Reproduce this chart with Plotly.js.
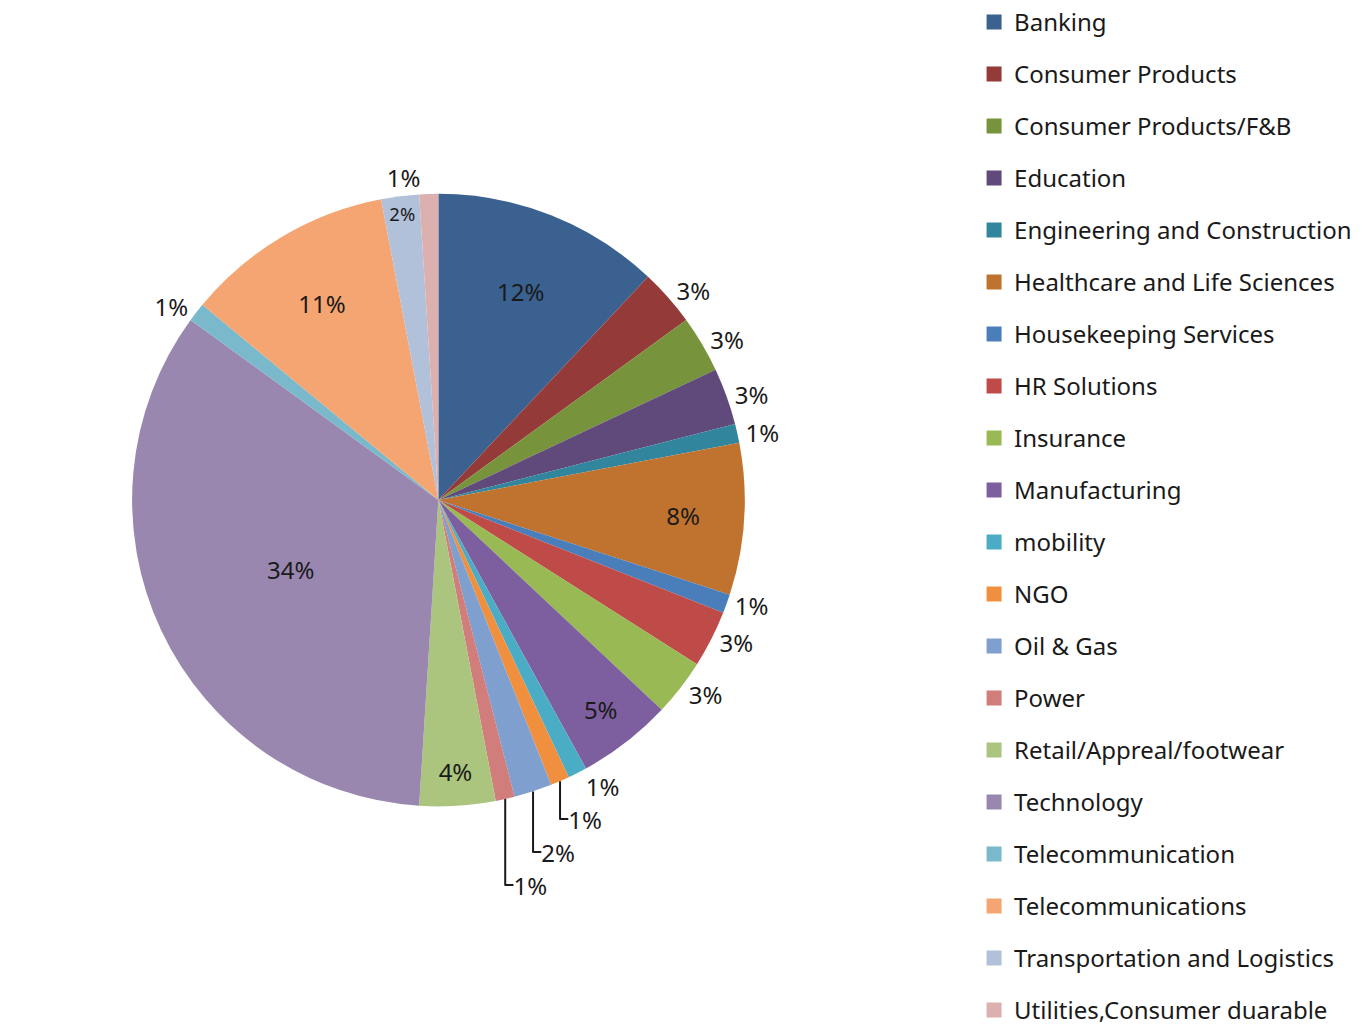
<!DOCTYPE html>
<html>
<head>
<meta charset="utf-8">
<script src="https://cdn.plot.ly/plotly-3.0.1.min.js"></script>
<style>
  html, body { margin: 0; padding: 0; background: #ffffff; }
  #chart { width: 1370px; height: 1031px; }
</style>
</head>
<body>
<div id="chart"></div>
<script>
// ---- data ----
const sectors = [
  "Banking", "Consumer Products", "Consumer Products/F&B", "Education",
  "Engineering and Construction", "Healthcare and Life Sciences",
  "Housekeeping Services", "HR Solutions", "Insurance", "Manufacturing",
  "mobility", "NGO", "Oil & Gas", "Power", "Retail/Appreal/footwear",
  "Technology", "Telecommunication", "Telecommunications",
  "Transportation and Logistics", "Utilities,Consumer duarable"
];
const sharePercent = [12, 3, 3, 3, 1, 8, 1, 3, 3, 5, 1, 1, 2, 1, 4, 34, 1, 11, 2, 1];

// ---- styles ----
const sliceColors = [
  "#3A6190", "#943B39", "#77933C", "#604A7B", "#31859C", "#C0722F",
  "#4A7EBB", "#BE4B48", "#98B954", "#7D5FA0", "#4BACC6", "#F0903F",
  "#7F9FCF", "#D07D7B", "#ABC57F", "#9987B0", "#7AB9CB", "#F5A572",
  "#B2C1DA", "#DDB0B0"
];
const bigSlices = new Set(["Banking", "Healthcare and Life Sciences", "Manufacturing",
  "Retail/Appreal/footwear", "Technology", "Telecommunications", "Transportation and Logistics"]);
const textPos = sectors.map(s => bigSlices.has(s) ? "inside" : "outside");

const FONT = "Noto Sans, Open Sans, sans-serif";

const pieTrace = {
  type: "pie",
  labels: sectors,
  values: sharePercent,
  sort: false,
  direction: "clockwise",
  rotation: 0,
  marker: { colors: sliceColors, line: { width: 0 } },
  texttemplate: "%{percent:.0%}",
  textposition: textPos,
  insidetextorientation: "horizontal",
  textfont: { family: FONT, size: 24, color: "#1a1a1a" },
  outsidetextfont: { family: FONT, size: 24, color: "#1a1a1a" },
  insidetextfont: { family: FONT, size: 24, color: "#1a1a1a" },
  domain: { x: [0.0, 0.64], y: [0.22, 0.82] },
  showlegend: false,
  hoverinfo: "label+percent"
};

// legend entries (one per sector, to allow legend spacing)
const legendTraces = sectors.map((s, i) => ({
  type: "scatter",
  mode: "markers",
  x: [null], y: [null],
  name: s,
  legendgroup: "g" + i,
  marker: { symbol: "square", size: 15, color: sliceColors[i] },
  hoverinfo: "skip"
}));

const layout = {
  width: 1370,
  height: 1031,
  margin: { l: 0, r: 0, t: 0, b: 0 },
  paper_bgcolor: "#ffffff",
  plot_bgcolor: "#ffffff",
  xaxis: { visible: false, domain: [0.70, 0.71] },
  yaxis: { visible: false, domain: [0, 0.01] },
  showlegend: true,
  legend: {
    x: 0.711, xanchor: "left",
    y: 1.01, yanchor: "top",
    traceorder: "grouped",
    tracegroupgap: 17.8,
    maxheight: 1200,
    font: { family: FONT, size: 24, color: "#1a1a1a" },
    itemwidth: 30,
    bgcolor: "rgba(0,0,0,0)"
  }
};

Plotly.newPlot("chart", [pieTrace, ...legendTraces], layout, { displayModeBar: false, staticPlot: true });
</script>
</body>
</html>
